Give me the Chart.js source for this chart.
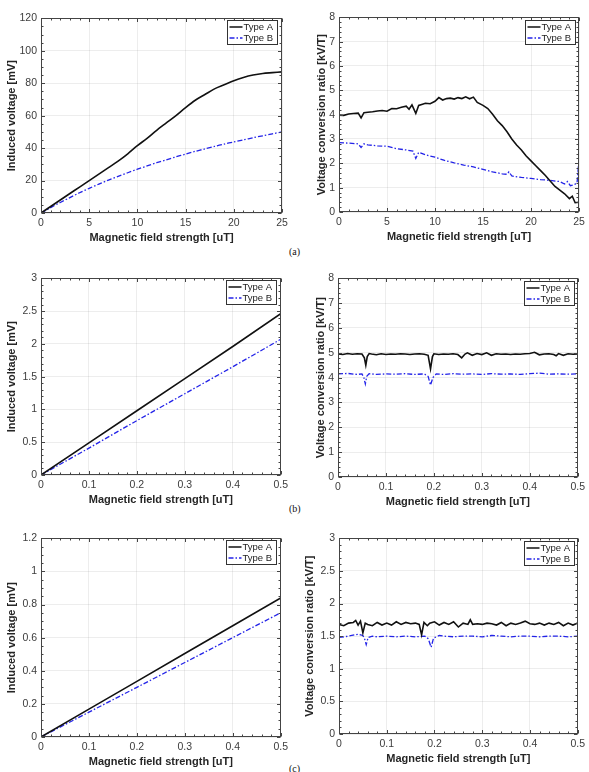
<!DOCTYPE html>
<html>
<head>
<meta charset="utf-8">
<script src="https://cdn.jsdelivr.net/npm/chart.js@4.4.1/dist/chart.umd.min.js"></script>
<style>
  body { margin: 0; background: #fff; width: 589px; height: 772px; overflow: hidden; position: relative; }
  .panel { position: absolute; }
  .tag { position: absolute; font-family: 'Liberation Serif', serif; font-size: 10px; color: #111; }
</style>
</head>
<body>
<div class="tag" style="left:289px; top:246px;">(a)</div>
<div class="tag" style="left:289px; top:503px;">(b)</div>
<div class="tag" style="left:289px; top:763px;">(c)</div>

<script>
// --- (a) induced voltage, 0..25 uT
const fieldA = [0,1,2,3,4,5,6,7,8,9,10,11,12,13,14,15,16,17,18,19,20,21,22,23,24,25];
const voltA_typeA = [0,4,8,12,16,20,24,28,32,36.5,41.5,46,51,55.5,60,65,69.5,73,76.5,79,81.5,83.5,85,86,86.5,87];
const voltA_typeB = [0,3.3,6.5,9.5,12.5,15.2,17.8,20.3,22.6,24.8,27,29,31,32.8,34.6,36.3,38,39.5,41,42.5,43.8,45.1,46.4,47.6,48.8,50];

// --- (a) conversion ratio
const ratioA_xA = [0,0.5,1,1.5,2,2.3,2.6,3,3.5,4,4.5,5,5.5,6,6.5,7,7.3,7.6,8,8.3,8.7,9,9.5,10,10.4,10.8,11.2,11.6,12,12.4,12.8,13.2,13.6,14,14.4,15,15.5,16,16.5,17,17.5,18,18.5,19,19.5,20,20.5,21,21.5,22,22.5,23,23.5,24,24.3,24.6,25];
const ratioA_yA = [3.98,3.97,4.03,4.05,4.06,3.87,4.08,4.1,4.12,4.15,4.17,4.14,4.25,4.24,4.3,4.35,4.22,4.4,4.05,4.38,4.43,4.47,4.45,4.55,4.7,4.6,4.66,4.68,4.64,4.7,4.66,4.73,4.65,4.72,4.5,4.38,4.25,4.02,3.75,3.55,3.3,3.0,2.75,2.55,2.3,2.1,1.9,1.7,1.5,1.27,1.05,0.9,0.75,0.55,0.65,0.38,0.4];
const ratioA_xB = [0,1,2,2.3,2.6,3,4,5,6,7,7.7,8,8.3,9,10,11,12,13,14,15,16,17,17.5,17.7,18,19,20,21,22,23,23.5,23.8,24.1,24.5,24.8,24.9,25];
const ratioA_yB = [2.85,2.83,2.8,2.65,2.8,2.76,2.72,2.7,2.6,2.55,2.5,2.2,2.45,2.35,2.25,2.12,2.02,1.93,1.85,1.75,1.65,1.57,1.55,1.65,1.48,1.42,1.38,1.33,1.3,1.25,1.15,1.25,1.08,1.12,1.2,1.7,1.5];

// --- (b) and (c) induced voltage, 0..0.5 uT
const fieldSmall = [0,0.1,0.2,0.3,0.4,0.5];
const voltB_typeA = [0,0.49,0.98,1.47,1.96,2.46];
const voltB_typeB = [0,0.41,0.83,1.24,1.65,2.07];
const voltC_typeA = [0,0.168,0.336,0.504,0.672,0.84];
const voltC_typeB = [0,0.15,0.3,0.45,0.6,0.75];

// --- (b) conversion ratio
const ratioB_xA = [0,0.01,0.02,0.03,0.04,0.05,0.055,0.058,0.061,0.065,0.07,0.08,0.09,0.1,0.11,0.12,0.13,0.14,0.15,0.16,0.17,0.18,0.188,0.193,0.197,0.2,0.21,0.22,0.23,0.24,0.25,0.258,0.265,0.27,0.28,0.29,0.3,0.31,0.32,0.33,0.34,0.35,0.36,0.37,0.38,0.39,0.4,0.41,0.42,0.43,0.44,0.45,0.455,0.46,0.47,0.48,0.49,0.5];
const ratioB_yA = [4.95,4.93,4.97,4.94,4.96,4.95,4.8,4.5,4.85,4.97,4.95,4.92,4.96,4.93,4.95,4.94,4.96,4.95,4.93,4.95,4.96,4.94,4.9,4.35,4.85,4.96,4.93,4.95,4.94,4.96,4.93,4.8,4.95,5.0,4.9,4.97,4.93,5.0,4.9,4.96,4.94,4.95,4.93,4.95,4.94,4.96,4.97,5.02,4.92,4.95,4.96,4.93,4.88,4.97,4.9,4.96,4.94,4.95];
const ratioB_xB = [0,0.02,0.04,0.05,0.054,0.057,0.06,0.065,0.08,0.1,0.12,0.14,0.16,0.18,0.188,0.193,0.198,0.205,0.22,0.24,0.26,0.28,0.3,0.32,0.34,0.36,0.38,0.4,0.42,0.44,0.46,0.48,0.5];
const ratioB_yB = [4.15,4.17,4.13,4.15,4.0,3.75,4.05,4.16,4.13,4.15,4.14,4.16,4.13,4.15,4.05,3.7,4.0,4.15,4.13,4.16,4.14,4.15,4.13,4.16,4.14,4.15,4.13,4.16,4.18,4.14,4.15,4.14,4.15];

// --- (c) conversion ratio
const ratioC_xA = [0,0.01,0.02,0.03,0.035,0.04,0.045,0.05,0.055,0.06,0.07,0.08,0.09,0.1,0.11,0.12,0.13,0.14,0.15,0.16,0.168,0.173,0.178,0.185,0.19,0.2,0.21,0.22,0.23,0.24,0.25,0.26,0.27,0.275,0.28,0.29,0.3,0.31,0.32,0.33,0.34,0.35,0.36,0.37,0.38,0.39,0.4,0.41,0.42,0.43,0.44,0.45,0.46,0.47,0.48,0.49,0.5];
const ratioC_yA = [1.68,1.66,1.7,1.71,1.74,1.67,1.73,1.55,1.7,1.68,1.66,1.71,1.67,1.7,1.67,1.72,1.68,1.71,1.69,1.7,1.68,1.52,1.71,1.66,1.7,1.72,1.67,1.71,1.68,1.72,1.64,1.7,1.68,1.75,1.68,1.69,1.68,1.7,1.69,1.67,1.71,1.66,1.7,1.68,1.7,1.73,1.69,1.68,1.7,1.67,1.7,1.68,1.71,1.66,1.7,1.67,1.7];
const ratioC_xB = [0,0.02,0.04,0.05,0.054,0.057,0.061,0.07,0.08,0.1,0.12,0.14,0.16,0.18,0.187,0.193,0.198,0.21,0.22,0.24,0.26,0.28,0.3,0.32,0.34,0.36,0.38,0.4,0.42,0.44,0.46,0.48,0.5];
const ratioC_yB = [1.48,1.5,1.53,1.51,1.45,1.37,1.48,1.5,1.49,1.5,1.49,1.5,1.49,1.5,1.46,1.33,1.47,1.51,1.5,1.49,1.5,1.5,1.49,1.51,1.5,1.49,1.5,1.5,1.49,1.5,1.5,1.49,1.5];

const seriesNames = ['Type A', 'Type B'];
const xTitle = 'Magnetic field strength [uT]';
const yTitleVolt = 'Induced voltage [mV]';
const yTitleRatio = 'Voltage conversion ratio [kV/T]';

const BLACK = '#111111';
const BLUE = '#2323e8';
const FONT = "'Liberation Sans', Arial, sans-serif";

function zip(xs, ys) {
    const n = Math.min(xs.length, ys.length);
    const out = [];
    for (let i = 0; i < n; i++) out.push({ x: xs[i], y: ys[i] });
    return out;
}

// MATLAB style labels: 1 not 1.0
const tickText = v => String(Math.round(v * 1000) / 1000);

// box, minor ticks and legend drawn inside the plot
const boxPlugin = {
    id: 'box',
    afterDraw(chart, args, o) {
        const { ctx, chartArea: a, scales: { x, y } } = chart;
        const L = Math.round(a.left) + 0.5, R = Math.round(a.right) - 0.5;
        const T = Math.round(a.top) + 0.5, B = Math.round(a.bottom) - 0.5;
        ctx.save();
        ctx.strokeStyle = '#444';
        ctx.lineWidth = 1;
        ctx.beginPath();
        const xs = o.xStep / o.xMinor;
        for (let i = 0; x.min + i * xs <= x.max + 1e-9; i++) {
            const px = Math.round(x.getPixelForValue(x.min + i * xs)) + 0.5;
            const len = i % o.xMinor === 0 ? 3.5 : 2;
            ctx.moveTo(px, B); ctx.lineTo(px, B - len);
            ctx.moveTo(px, T); ctx.lineTo(px, T + len);
        }
        const ys = o.yStep / o.yMinor;
        for (let i = 0; y.min + i * ys <= y.max + 1e-9; i++) {
            const py = Math.round(y.getPixelForValue(y.min + i * ys)) + 0.5;
            const len = i % o.yMinor === 0 ? 3.5 : 2;
            ctx.moveTo(L, py); ctx.lineTo(L + len, py);
            ctx.moveTo(R, py); ctx.lineTo(R - len, py);
        }
        ctx.stroke();
        ctx.strokeRect(L, T, R - L, B - T);

        // legend
        const w = 50, h = 24;
        const bx = Math.round(a.right - o.legRight - w) + 0.5;
        const by = Math.round(a.top + o.legTop) + 0.5;
        ctx.fillStyle = '#fff';
        ctx.fillRect(bx, by, w, h);
        ctx.strokeStyle = '#333';
        ctx.strokeRect(bx, by, w, h);
        ctx.font = '9.5px ' + FONT;
        ctx.textBaseline = 'middle';
        chart.data.datasets.forEach((ds, i) => {
            const cy = by + 6.5 + i * 11;
            ctx.beginPath();
            ctx.strokeStyle = ds.borderColor;
            ctx.lineWidth = 1.5;
            ctx.setLineDash(ds.borderDash || []);
            ctx.moveTo(bx + 2, cy); ctx.lineTo(bx + 15, cy);
            ctx.stroke();
            ctx.setLineDash([]);
            ctx.fillStyle = '#222';
            ctx.fillText(ds.label, bx + 16, cy + 0.5);
        });
        ctx.restore();
    }
};

function makePanel(cfg) {
    const yW = cfg.yW, padTop = 8, padRight = 10, xH = 32;
    const w = yW + (cfg.r - cfg.l) + padRight;
    const h = padTop + (cfg.b - cfg.t) + xH;
    const div = document.createElement('div');
    div.className = 'panel';
    div.style.left = (cfg.l - yW) + 'px';
    div.style.top = (cfg.t - padTop) + 'px';
    const cv = document.createElement('canvas');
    cv.width = w; cv.height = h;
    cv.style.width = w + 'px'; cv.style.height = h + 'px';
    div.appendChild(cv);
    document.body.appendChild(div);

    new Chart(cv.getContext('2d'), {
        type: 'line',
        data: {
            datasets: [
                { label: seriesNames[0], data: cfg.a, borderColor: BLACK, borderWidth: 1.6,
                  pointRadius: 0, tension: cfg.smooth ? 0.3 : 0, fill: false },
                { label: seriesNames[1], data: cfg.bSeries, borderColor: BLUE, borderWidth: 1.3,
                  borderDash: [5, 2, 1.5, 2], pointRadius: 0, tension: cfg.smooth ? 0.3 : 0, fill: false }
            ]
        },
        options: {
            responsive: false,
            animation: false,
            devicePixelRatio: 1,
            layout: { padding: { top: padTop, right: padRight, left: 0, bottom: 0 } },
            plugins: {
                legend: { display: false },
                tooltip: { enabled: false },
                box: { xStep: cfg.xStep, xMinor: cfg.xMinor, yStep: cfg.yStep, yMinor: cfg.yMinor,
                       legRight: cfg.legRight, legTop: cfg.legTop }
            },
            scales: {
                x: {
                    type: 'linear', min: 0, max: cfg.xMax,
                    afterFit: s => { s.height = xH; },
                    grid: { color: 'rgba(0,0,0,0.07)', drawTicks: false },
                    border: { display: false },
                    ticks: { stepSize: cfg.xStep, autoSkip: false, maxRotation: 0, padding: 4,
                             callback: tickText,
                             color: '#3c3c3c', font: { family: FONT, size: 10.5 } },
                    title: { display: true, text: xTitle, color: '#262626', padding: { top: 1, bottom: 0 },
                             font: { family: FONT, size: 11, weight: 'bold' } }
                },
                y: {
                    min: 0, max: cfg.yMax,
                    afterFit: s => { s.width = yW; },
                    grid: { color: 'rgba(0,0,0,0.07)', drawTicks: false },
                    border: { display: false },
                    ticks: { stepSize: cfg.yStep, autoSkip: false, padding: 4,
                             callback: tickText,
                             color: '#3c3c3c', font: { family: FONT, size: 10.5 } },
                    title: { display: true, text: cfg.yTitle, color: '#262626', padding: { top: 5, bottom: 0 },
                             font: { family: FONT, size: 11, weight: 'bold' } }
                }
            }
        },
        plugins: [boxPlugin]
    });
}

// (a)
makePanel({ l: 41, t: 16, r: 282, b: 213, yW: 41, xMax: 25, xStep: 5, xMinor: 5, yMax: 120, yStep: 20, yMinor: 4,
            yTitle: yTitleVolt, smooth: true, legRight: 5, legTop: 2,
            a: zip(fieldA, voltA_typeA), bSeries: zip(fieldA, voltA_typeB) });
makePanel({ l: 339, t: 15, r: 579, b: 212, yW: 29, xMax: 25, xStep: 5, xMinor: 5, yMax: 8, yStep: 1, yMinor: 5,
            yTitle: yTitleRatio, smooth: false, legRight: 4, legTop: 3,
            a: zip(ratioA_xA, ratioA_yA), bSeries: zip(ratioA_xB, ratioA_yB) });
// (b)
makePanel({ l: 41, t: 276, r: 282, b: 475, yW: 41, xMax: 0.5, xStep: 0.1, xMinor: 5, yMax: 3, yStep: 0.5, yMinor: 5,
            yTitle: yTitleVolt, smooth: false, legRight: 5, legTop: 2,
            a: zip(fieldSmall, voltB_typeA), bSeries: zip(fieldSmall, voltB_typeB) });
makePanel({ l: 338, t: 276, r: 579, b: 477, yW: 29, xMax: 0.5, xStep: 0.1, xMinor: 5, yMax: 8, yStep: 1, yMinor: 5,
            yTitle: yTitleRatio, smooth: false, legRight: 4, legTop: 3,
            a: zip(ratioB_xA, ratioB_yA), bSeries: zip(ratioB_xB, ratioB_yB) });
// (c)
makePanel({ l: 41, t: 536, r: 282, b: 737, yW: 41, xMax: 0.5, xStep: 0.1, xMinor: 5, yMax: 1.2, yStep: 0.2, yMinor: 4,
            yTitle: yTitleVolt, smooth: false, legRight: 5, legTop: 2,
            a: zip(fieldSmall, voltC_typeA), bSeries: zip(fieldSmall, voltC_typeB) });
makePanel({ l: 339, t: 536, r: 579, b: 734, yW: 41, xMax: 0.5, xStep: 0.1, xMinor: 5, yMax: 3, yStep: 0.5, yMinor: 5,
            yTitle: yTitleRatio, smooth: false, legRight: 4, legTop: 3,
            a: zip(ratioC_xA, ratioC_yA), bSeries: zip(ratioC_xB, ratioC_yB) });
</script>
</body>
</html>
